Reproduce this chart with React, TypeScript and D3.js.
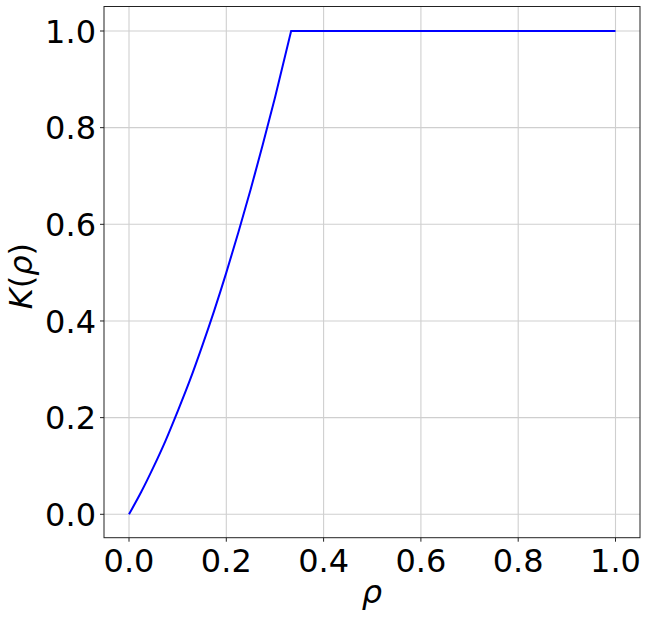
import React from "react";
import * as d3 from "d3";

const rhoValues = [0, 0.025, 0.05, 0.075, 0.1, 0.125, 0.15, 0.175, 0.2, 0.225, 0.25, 0.275, 0.3, 0.3333, 1.0];
const kValues = [0, 0.046, 0.097, 0.152, 0.213, 0.277, 0.347, 0.421, 0.5, 0.584, 0.672, 0.765, 0.862, 1.0, 1.0];
const xTicks = [0, 0.2, 0.4, 0.6, 0.8, 1.0];
const yTicks = [0, 0.2, 0.4, 0.6, 0.8, 1.0];
const xLabel = "ρ";

const W = 649;
const H = 621;
const left = 104;
const right = 640;
const top = 6.5;
const bottom = 537.7;

export default function App() {
  const x = d3.scaleLinear().domain([0, 1]).range([129, 615.5]);
  const y = d3.scaleLinear().domain([0, 1]).range([514.3, 31]);
  const pts = rhoValues.map((r, i) => [r, kValues[i]] as [number, number]);
  const kneeIdx = kValues.indexOf(1.0);
  const rising = pts.slice(0, kneeIdx + 1);
  const flat = pts.slice(kneeIdx);
  const lineCurve = d3
    .line<[number, number]>()
    .x((d) => x(d[0]))
    .y((d) => y(d[1]))
    .curve(d3.curveMonotoneX);
  const lineLin = d3
    .line<[number, number]>()
    .x((d) => x(d[0]))
    .y((d) => y(d[1]));
  const flatPath = (lineLin(flat) || "").replace(/^M[^L]*/, "");
  const d = (lineCurve(rising) || "") + flatPath;
  const font = "DejaVu Sans, sans-serif";
  const fs = 32;
  return (
    <svg
      width={W}
      height={H}
      style={{ position: "absolute", left: 0, top: 0, background: "#fff" }}
    >
      <rect x={0} y={0} width={W} height={H} fill="#fff" />
      {xTicks.map((t) => (
        <line key={"gx" + t} x1={x(t)} x2={x(t)} y1={top} y2={bottom} stroke="#cfcfcf" strokeWidth={1.1} />
      ))}
      {yTicks.map((t) => (
        <line key={"gy" + t} x1={left} x2={right} y1={y(t)} y2={y(t)} stroke="#cfcfcf" strokeWidth={1.1} />
      ))}
      <path d={d} fill="none" stroke="#0000ff" strokeWidth={2} strokeLinejoin="miter" />
      <rect x={left} y={top} width={right - left} height={bottom - top} fill="none" stroke="#222" strokeWidth={1} />
      {xTicks.map((t) => (
        <g key={"tx" + t}>
          <line x1={x(t)} x2={x(t)} y1={bottom} y2={bottom + 4} stroke="#222" strokeWidth={1} />
          <text x={x(t)} y={572} textAnchor="middle" fontFamily={font} fontSize={fs} fill="#000">
            {t.toFixed(1)}
          </text>
        </g>
      ))}
      {yTicks.map((t) => (
        <g key={"ty" + t}>
          <line x1={left - 4} x2={left} y1={y(t)} y2={y(t)} stroke="#222" strokeWidth={1} />
          <text x={96} y={y(t)} dy="0.36em" textAnchor="end" fontFamily={font} fontSize={fs} fill="#000">
            {t.toFixed(1)}
          </text>
        </g>
      ))}
      <text x={372} y={603} textAnchor="middle" fontFamily={font} fontSize={fs} fontStyle="italic" fill="#000">
        {xLabel}
      </text>
      <text
        transform={`translate(31.5, ${(top + bottom) / 2 + 4}) rotate(-90)`}
        textAnchor="middle"
        fontFamily={font}
        fontSize={fs}
        fill="#000"
      >
        <tspan fontStyle="italic">K</tspan>
        <tspan>(</tspan>
        <tspan fontStyle="italic">ρ</tspan>
        <tspan>)</tspan>
      </text>
    </svg>
  );
}
